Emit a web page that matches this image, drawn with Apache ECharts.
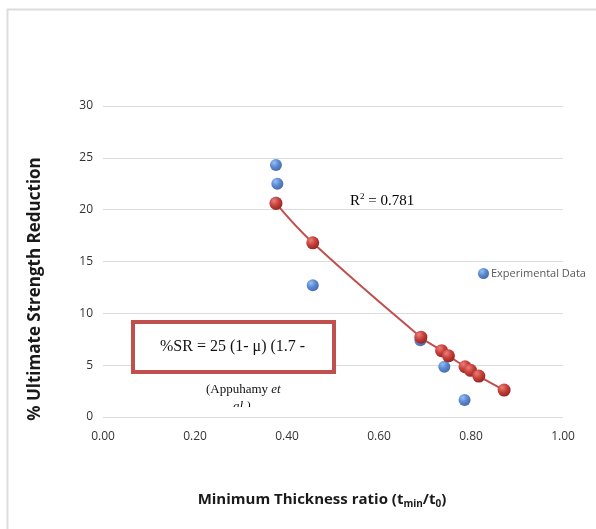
<!DOCTYPE html>
<html>
<head>
<meta charset="utf-8">
<script src="https://cdn.jsdelivr.net/npm/echarts@6/dist/echarts.min.js"></script>
<style>
  html, body { margin: 0; padding: 0; background: #fff; }
  #main { width: 596px; height: 529px; }
</style>
</head>
<body>
<div id="main"></div>
<script>
// experimental points (thickness ratio, % reduction)
const expX = [0.376, 0.379, 0.376, 0.456, 0.690, 0.742, 0.786];
const expY = [24.3, 22.5, 20.7, 12.7, 7.4, 4.85, 1.64];
// model points (red curve)
const modelX = [0.376, 0.456, 0.691, 0.736, 0.751, 0.787, 0.799, 0.817, 0.872];
const modelY = [20.6, 16.8, 7.7, 6.4, 5.9, 4.85, 4.5, 3.95, 2.6];

const blueBall = new echarts.graphic.RadialGradient(0.35, 0.3, 0.75, [
  { offset: 0, color: '#7fb0f0' },
  { offset: 0.5, color: '#2f6cc8' },
  { offset: 1, color: '#1a4590' }
]);
const redBall = new echarts.graphic.RadialGradient(0.35, 0.3, 0.75, [
  { offset: 0, color: '#ea7f7a' },
  { offset: 0.5, color: '#c83f3a' },
  { offset: 1, color: '#8e2522' }
]);

const sans = 'Open Sans, sans-serif';
const serif = 'Liberation Serif, serif';

const chart = echarts.init(document.getElementById('main'));
chart.setOption({
  animation: false,
  grid: { left: 103, right: 33, top: 106, bottom: 112 },
  legend: {
    left: 473, top: 263,
    itemWidth: 11, itemHeight: 11, itemGap: 2,
    icon: 'circle',
    textStyle: { fontFamily: 'Liberation Sans Narrow, Open Sans, sans-serif', fontSize: 11, color: '#595959', padding: [0, 0, 0, -3] },
    data: ['Experimental Data']
  },
  xAxis: {
    type: 'value', min: 0, max: 1, interval: 0.2,
    axisLine: { show: false }, axisTick: { show: false },
    splitLine: { show: false },
    axisLabel: {
      margin: 14, fontSize: 12, color: '#333', fontFamily: sans,
      formatter: v => v.toFixed(2)
    }
  },
  yAxis: {
    type: 'value', min: 0, max: 30, interval: 5,
    axisLine: { show: false }, axisTick: { show: false },
    splitLine: { lineStyle: { color: '#dcdcdc', width: 1 } },
    axisLabel: { margin: 10, fontSize: 12, color: '#333', fontFamily: sans }
  },
  series: [
    {
      name: 'Experimental Data',
      type: 'scatter',
      symbolSize: 12,
      itemStyle: { color: blueBall },
      data: expX.map((x, i) => [x, expY[i]]),
      z: 2
    },
    {
      name: 'Model',
      type: 'line',
      smooth: 0.4,
      symbol: 'circle',
      symbolSize: 13,
      showSymbol: true,
      lineStyle: { color: '#c0504d', width: 2 },
      itemStyle: { color: redBall },
      data: modelX.map((x, i) => [x, modelY[i]]),
      z: 3
    }
  ],
  graphic: [
    { type: 'rect', left: 5, top: 7, shape: { width: 620, height: 540 },
      style: { fill: 'none', stroke: '#dddddd', lineWidth: 2 }, silent: true },
    // y-axis title
    { type: 'text', x: 35, y: 289, rotation: Math.PI / 2,
      style: { text: '% Ultimate Strength Reduction', align: 'center', verticalAlign: 'middle',
        font: 'bold 17px "Open Sans", sans-serif', fill: '#1a1a1a' } },
    // x-axis title
    { type: 'text', x: 322, y: 500,
      style: { text: '{b|Minimum Thickness ratio (t}{s|min}{b|/t}{s|0}{b|)}', align: 'center', verticalAlign: 'middle',
        rich: {
          b: { fontSize: 15, fontWeight: 'bold', fill: '#1a1a1a', fontFamily: sans },
          s: { fontSize: 10, fontWeight: 'bold', fill: '#1a1a1a', fontFamily: sans, padding: [8, 0, 0, 0] }
        } } },
    { type: 'text', left: 350, top: 192,
      style: { text: '{n|R}{p|2}{n| = 0.781}',
        rich: {
          n: { fontFamily: serif, fontSize: 15, fill: '#000' },
          p: { fontFamily: serif, fontSize: 9, fill: '#000', padding: [0, 0, 9, 0] }
        } } },
    { type: 'rect', left: 131, top: 320, shape: { width: 201, height: 50 },
      style: { fill: '#fff', stroke: '#c0504d', lineWidth: 4 }, z: 10 },
    { type: 'text', left: 160, top: 339, z: 11,
      style: { text: '%SR = 25 (1- μ) (1.7 -', font: '16px "Liberation Serif", serif', fill: '#111' } },
    { type: 'text', left: 206, top: 383, z: 11,
      style: { text: '{n|(Appuhamy }{i|et}',
        rich: {
          n: { fontFamily: serif, fontSize: 13, fill: '#111' },
          i: { fontFamily: serif, fontSize: 13, fontStyle: 'italic', fill: '#111' }
        } } },
    // second line of the citation, cut off in the original
    { type: 'text', left: 233, top: 400, z: 11,
      style: { text: 'al.)', font: 'italic 13px "Liberation Serif", serif', fill: '#111' } },
    { type: 'rect', left: 225, top: 407, shape: { width: 40, height: 8 },
      style: { fill: '#fff' }, z: 12, silent: true }
  ]
});
</script>
</body>
</html>
